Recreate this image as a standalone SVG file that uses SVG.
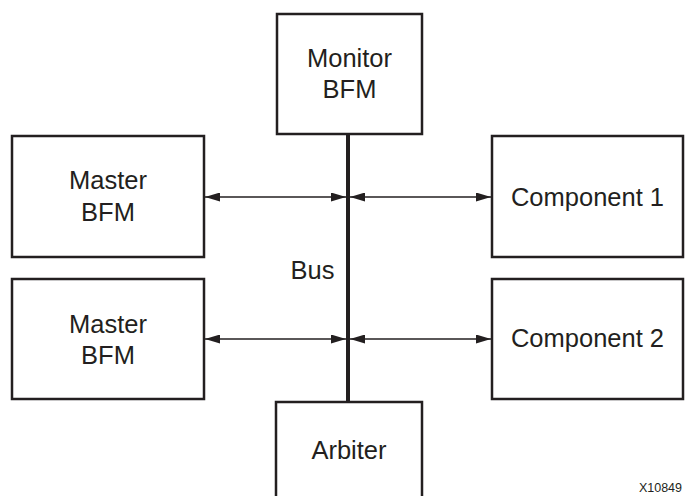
<svg xmlns="http://www.w3.org/2000/svg" width="685" height="496" viewBox="0 0 685 496">
<style>
.box{fill:#fff;stroke:#231f20;stroke-width:2.5}
.lbl{font-family:"Liberation Sans",Arial,sans-serif;font-size:25.5px;fill:#231f20;text-anchor:middle}
.bus{stroke:#231f20;stroke-width:4;fill:none}
.conn{stroke:#231f20;stroke-width:1.3;fill:none;marker-start:url(#ah);marker-end:url(#ah)}
.tag{font-family:"Liberation Sans",Arial,sans-serif;font-size:12.5px;fill:#231f20;text-anchor:end}
</style>
<defs>
<marker id="ah" viewBox="0 0 15 9" refX="15" refY="4.5" markerWidth="15" markerHeight="9" markerUnits="userSpaceOnUse" orient="auto-start-reverse">
<path d="M0,0 L15,4.5 L0,9 Z" fill="#231f20"/>
</marker>
</defs>
<rect width="685" height="496" fill="#fff"/>
<g id="connectors">
<line class="bus" x1="348" y1="134" x2="348" y2="402"/>
<line class="conn" x1="205" y1="197" x2="346" y2="197"/>
<line class="conn" x1="350" y1="197" x2="491" y2="197"/>
<line class="conn" x1="205" y1="339" x2="346" y2="339"/>
<line class="conn" x1="350" y1="339" x2="491" y2="339"/>
</g>
<g id="monitor">
<rect class="box" x="277" y="14" width="145" height="120"/>
<text class="lbl" x="349.5" y="67">Monitor</text>
<text class="lbl" x="349.5" y="98">BFM</text>
</g>
<g id="master1">
<rect class="box" x="12" y="136" width="192" height="121"/>
<text class="lbl" x="108" y="189">Master</text>
<text class="lbl" x="108" y="221">BFM</text>
</g>
<g id="master2">
<rect class="box" x="12" y="279" width="192" height="120"/>
<text class="lbl" x="108" y="333">Master</text>
<text class="lbl" x="108" y="364">BFM</text>
</g>
<g id="component1">
<rect class="box" x="492" y="136" width="191" height="121"/>
<text class="lbl" x="587.5" y="206">Component 1</text>
</g>
<g id="component2">
<rect class="box" x="492" y="279" width="191" height="120"/>
<text class="lbl" x="587.5" y="347">Component 2</text>
</g>
<g id="bus-label">
<text class="lbl" x="312.5" y="279">Bus</text>
</g>
<g id="arbiter">
<rect class="box" x="276" y="402" width="146" height="110"/>
<text class="lbl" x="349" y="459">Arbiter</text>
</g>
<text class="tag" x="682" y="492">X10849</text>
</svg>
